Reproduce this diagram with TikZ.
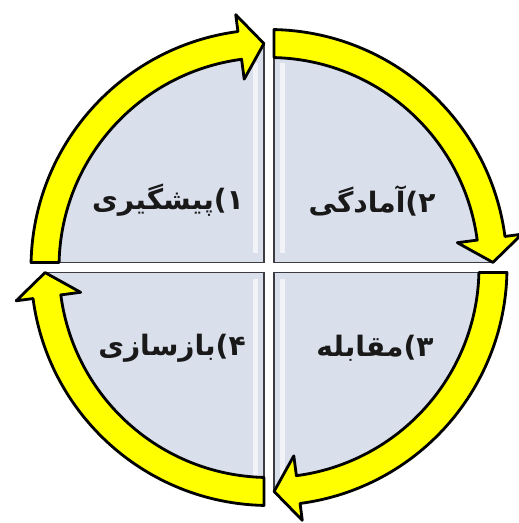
\documentclass[tikz,border=0pt]{standalone}
\usepackage{fontspec}
\usepackage{tikz}
\newfontfamily\persianfont[Script=Arabic]{DejaVu Sans}
\TeXXeTstate=1
\definecolor{ringyellow}{RGB}{255,255,0}
\definecolor{quadblue}{RGB}{218,223,236}
\definecolor{edgegray}{RGB}{60,60,66}
\newcommand{\gaphalf}{5}
\newcommand{\ringin}{210}
\newcommand{\ringout}{238}
\newcommand{\ringmid}{224}
\newcommand{\headin}{190}
\newcommand{\headout}{255}
\newcommand{\headang}{97.5}
\newcommand{\tipang}{91.3}
\tikzset{
  % --- shapes ---
  quadfill/.style  = {fill=quadblue},
  quadedge/.style  = {draw=edgegray, line width=1.1pt},
  gloss/.style     = {fill=white, opacity=0.65},
  cyclearrow/.style = {fill=ringyellow, draw=black, line width=1.6pt,
                       line join=round},
  % --- text ---
  phase/.style     = {font=\persianfont\bfseries\fontsize{16}{19}\selectfont,
                      text=black!90},
}

\begin{document}
\begin{tikzpicture}[x=0.02cm, y=0.02cm]
  \useasboundingbox (-269,-255.5) rectangle (249,267.5);

  % ===================================================================
  %  QUADRANTS
  % ===================================================================
  \foreach \rot in {0,-90,-180,-270}{
    \begin{scope}[rotate=\rot]
      \begin{scope}
        \clip (-\gaphalf,\gaphalf) rectangle (-300,300);
        \fill[quadfill] (0,0) circle[radius=\ringmid];
      \end{scope}
      \draw[quadedge] (-\gaphalf,\ringmid) -- (-\gaphalf,\gaphalf) -- (-\ringmid,\gaphalf);
    \end{scope}
  }

  % --- light stripes along the vertical gap ---
  \fill[gloss] (-16, 14) rectangle (-11, 204);
  \fill[gloss] ( 11, 14) rectangle ( 16, 204);
  \fill[gloss] (-16,-12) rectangle (-11,-212);
  \fill[gloss] ( 11,-12) rectangle ( 16,-212);

  % ===================================================================
  %  CYCLE ARROWS (clockwise)
  % ===================================================================
  \foreach \rot in {0,-90,-180,-270}{
    \begin{scope}[rotate=\rot]
      \path[cyclearrow]
        ({180-asin(\gaphalf/\ringout)}:\ringout)
        arc[start angle={180-asin(\gaphalf/\ringout)}, end angle=\headang, radius=\ringout]
        -- (\headang:\headout) -- (\tipang:\ringmid) -- (\headang:\headin)
        -- (\headang:\ringin)
        arc[start angle=\headang, end angle={180-asin(\gaphalf/\ringin)}, radius=\ringin]
        -- cycle;
    \end{scope}
  }

  % ===================================================================
  %  LABELS
  % ===================================================================
  \node[phase] (prevent) at (-101, 67) {\beginR ۱)پیشگیری\endR};
  \node[phase] (prepare) at ( 103, 67) {\beginR ۲)آمادگی\endR};
  \node[phase] (respond) at ( 106,-81) {\beginR ۳)مقابله\endR};
  \node[phase] (rebuild) at ( -97,-81) {\beginR ۴)بازسازی\endR};

\end{tikzpicture}
\end{document}
